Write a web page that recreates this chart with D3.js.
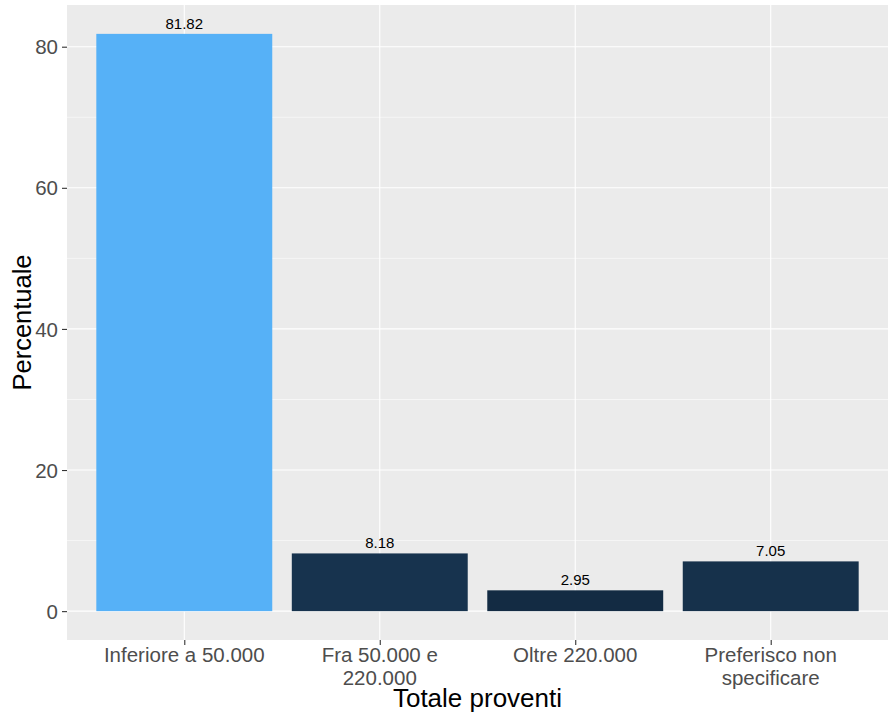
<!DOCTYPE html>
<html><head><meta charset="utf-8">
<script src="https://cdn.jsdelivr.net/npm/d3@7"></script>
<style>body{margin:0;background:#fff}svg{display:block}</style>
</head><body>
<svg id="c" width="889" height="714"></svg>
<script>
const categories = ["Inferiore a 50.000", "Fra 50.000 e\n220.000", "Oltre 220.000", "Preferisco non\nspecificare"];
const values = [81.82, 8.18, 2.95, 7.05];
const labels = ["81.82", "8.18", "2.95", "7.05"];
const yTicks = [0, 20, 40, 60, 80];

const svg = d3.select("#c");
const P = {left: 67, right: 888, top: 5, bottom: 640};
const font = "Liberation Sans, Arial, Helvetica, sans-serif";

const ymax = d3.max(values), ymin = 0;
const pad = (ymax - ymin) * 0.05;
const y = d3.scaleLinear().domain([ymin - pad, ymax + pad]).range([P.bottom, P.top]);
const unit = (P.right - P.left) / (categories.length - 1 + 1.2);
const xc = d3.scalePoint().domain(categories).range([P.left + 0.6 * unit, P.right - 0.6 * unit]);
const bw = 0.9 * unit;
const color = d3.scaleLinear().domain([d3.min(values), d3.max(values)]).range(["#132B43", "#56B1F7"]).interpolate(d3.interpolateLab);

svg.append("rect").attr("x", P.left).attr("y", P.top).attr("width", P.right - P.left).attr("height", P.bottom - P.top).attr("fill", "#EBEBEB");

// minor grid
const minor = [];
for (let i = 0; i < yTicks.length - 1; i++) minor.push((yTicks[i] + yTicks[i + 1]) / 2);
minor.push(yTicks[yTicks.length - 1] + 10);
svg.selectAll(".mg").data(minor.filter(v => y(v) >= P.top)).enter().append("line")
  .attr("x1", P.left).attr("x2", P.right).attr("y1", d => y(d)).attr("y2", d => y(d))
  .attr("stroke", "#fff").attr("stroke-width", 0.55);
svg.selectAll(".gy").data(yTicks).enter().append("line")
  .attr("x1", P.left).attr("x2", P.right).attr("y1", d => y(d)).attr("y2", d => y(d))
  .attr("stroke", "#fff").attr("stroke-width", 1.1);
svg.selectAll(".gx").data(categories).enter().append("line")
  .attr("y1", P.top).attr("y2", P.bottom).attr("x1", d => xc(d)).attr("x2", d => xc(d))
  .attr("stroke", "#fff").attr("stroke-width", 1.1);

// bars
svg.selectAll(".bar").data(values).enter().append("rect")
  .attr("x", (d, i) => xc(categories[i]) - bw / 2).attr("width", bw)
  .attr("y", d => y(d)).attr("height", d => y(0) - y(d))
  .attr("fill", d => color(d));

svg.selectAll(".bl").data(values).enter().append("text")
  .attr("x", (d, i) => xc(categories[i])).attr("y", d => y(d) - 5)
  .attr("text-anchor", "middle").attr("font-family", font).attr("font-size", 15).attr("fill", "#000")
  .text((d, i) => labels[i]);

// y axis
const yAxis = d3.axisLeft(y).tickValues(yTicks).tickSize(5).tickPadding(4);
const ga = svg.append("g").attr("transform", `translate(${P.left},0)`).call(yAxis);
ga.select(".domain").remove();
ga.selectAll(".tick line").attr("stroke", "#333").attr("stroke-width", 1.1);
ga.selectAll(".tick text").attr("font-family", font).attr("font-size", 20.5).attr("fill", "#4D4D4D").attr("dy", "0.35em");

// x axis
const xAxis = d3.axisBottom(xc).tickSize(5).tickPadding(3).tickFormat("");
const gx = svg.append("g").attr("transform", `translate(0,${P.bottom})`).call(xAxis);
gx.select(".domain").remove();
gx.selectAll(".tick line").attr("stroke", "#333").attr("stroke-width", 1.1);
categories.forEach(c => {
  const lines = c.split("\n");
  const t = svg.append("text").attr("x", xc(c)).attr("y", 662).attr("text-anchor", "middle")
    .attr("font-family", font).attr("font-size", 20.5).attr("fill", "#4D4D4D");
  lines.forEach((l, i) => t.append("tspan").attr("x", xc(c)).attr("dy", i === 0 ? 0 : 23).text(l));
});

svg.append("text").attr("x", (P.left + P.right) / 2).attr("y", 707).attr("text-anchor", "middle")
  .attr("font-family", font).attr("font-size", 26).attr("fill", "#000").text("Totale proventi");
svg.append("text").attr("transform", `translate(31,${(P.top + P.bottom) / 2}) rotate(-90)`).attr("text-anchor", "middle")
  .attr("font-family", font).attr("font-size", 25.5).attr("fill", "#000").text("Percentuale");
</script>
</body></html>
